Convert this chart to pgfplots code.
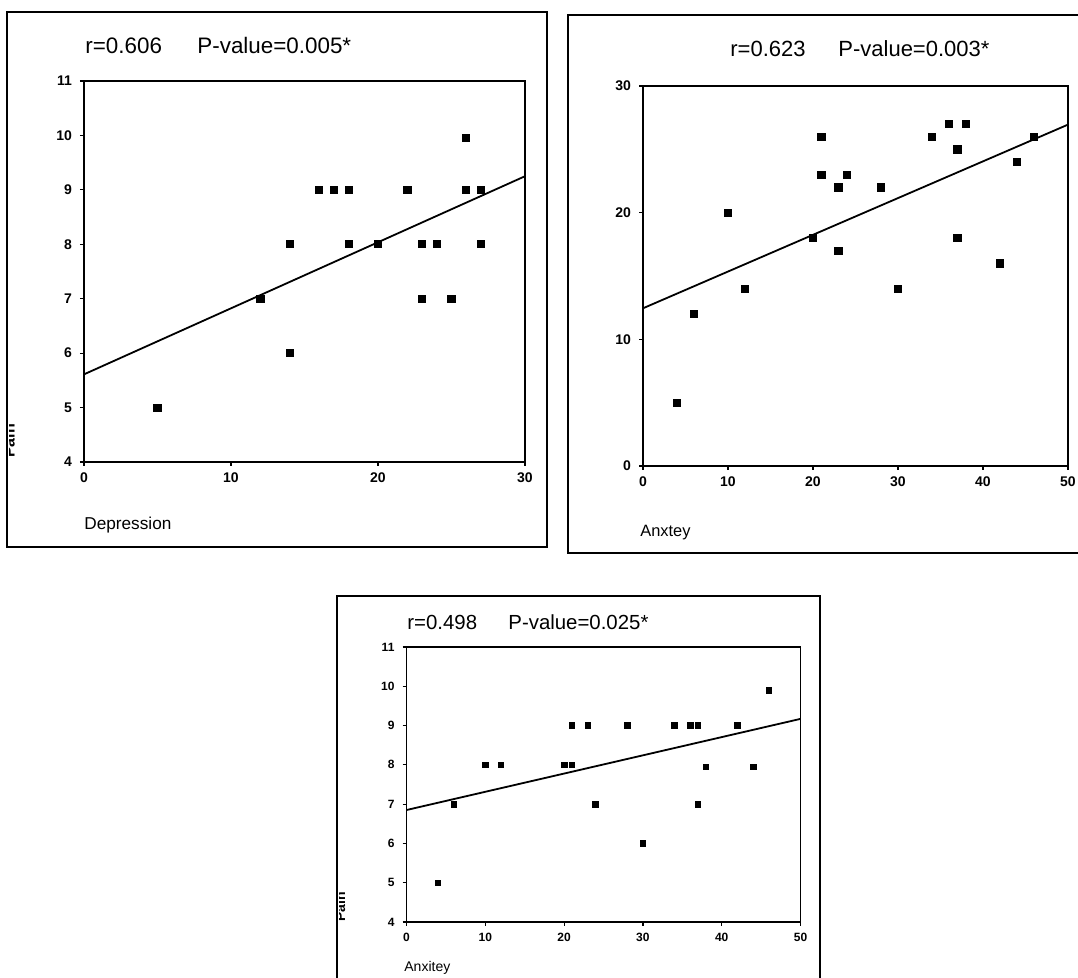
\documentclass[border=0pt]{standalone}
\usepackage{pgfplots}
\pgfplotsset{compat=1.18}
\usepackage{fontspec}
\setmainfont{Liberation Sans}
\pgfplotsset{
  myax/.style={scale only axis, anchor=south west,
    axis line style={line width=0.8pt},
    tick align=outside, tick pos=left, major tick length=2pt,
    tick style={line width=0.6pt, black},
    /pgf/number format/assume math mode=true,
    ticklabel style={font=\fontsize{7}{8}\selectfont\bfseries},
    yticklabel style={xshift=-0.5pt},
    clip=false},
  pts/.style={only marks, mark=square*, mark size=1.8pt, black},
  fit/.style={no marks, black, line width=0.9pt}
}
\begin{document}
\begin{tikzpicture}
\path[use as bounding box] (0,0) rectangle (539pt,489pt);
\fill[white] (0,0) rectangle (539pt,489pt);
% frames
\draw[line width=1pt] (3.5pt,215.5pt) rectangle (273.5pt,483pt);
\draw[line width=1pt] (284pt,212.5pt) rectangle (548pt,481.5pt);
\draw[line width=1pt] (168.5pt,-6pt) rectangle (410pt,191pt);

% Panel 1
\begin{axis}[myax, at={(42pt,258pt)}, width=220.5pt, height=190.5pt,
  xmin=0, xmax=30, ymin=4, ymax=11, xtick={0,10,20,30}, ytick={4,5,...,11}]
\addplot[pts] coordinates {(5,5) (12,7) (14,8) (14,6) (16,9) (17,9) (18,9) (18,8) (20,8) (22,9) (23,8) (24,8) (23,7) (25,7) (26,9.95) (26,9) (27,9) (27,8)};
\addplot[fit] coordinates {(0,5.61) (30,9.25)};
\end{axis}
\node[anchor=base west, inner sep=0, font=\fontsize{11.2}{13}\selectfont] at (42.5pt,462pt) {r=0.606};
\node[anchor=base west, inner sep=0, font=\fontsize{11.2}{13}\selectfont] at (98.5pt,462pt) {P-value=0.005*};
\node[anchor=base west, inner sep=0, font=\fontsize{8.6}{10}\selectfont] at (42pt,224pt) {Depression};
\begin{scope}
\clip (4.5pt,240pt) rectangle (20pt,300pt);
\node[rotate=90, inner sep=0, font=\fontsize{8}{10}\bfseries\selectfont] at (4.5pt,268.5pt) {Pain};
\end{scope}

% Panel 2
\begin{axis}[myax, at={(321.5pt,256pt)}, width=212.5pt, height=190pt,
  xmin=0, xmax=50, ymin=0, ymax=30, xtick={0,10,...,50}, ytick={0,10,20,30}]
\addplot[pts] coordinates {(4,5) (6,12) (10,20) (12,14) (20,18) (21,26) (21,23) (23,22) (23,17) (24,23) (28,22) (30,14) (34,26) (36,27) (37,25) (37,18) (38,27) (42,16) (44,24) (46,26)};
\addplot[fit] coordinates {(0,12.45) (50,26.95)};
\end{axis}
\node[anchor=base west, inner sep=0, font=\fontsize{11}{13}\selectfont] at (365pt,460.5pt) {r=0.623};
\node[anchor=base west, inner sep=0, font=\fontsize{11}{13}\selectfont] at (419pt,460.5pt) {P-value=0.003*};
\node[anchor=base west, inner sep=0, font=\fontsize{8.2}{10}\selectfont] at (320pt,220.5pt) {Anxtey};

% Panel 3
\begin{axis}[myax, at={(203.25pt,28pt)}, width=197pt, height=137.5pt,
  xmin=0, xmax=50, ymin=4, ymax=11, xtick={0,10,...,50}, ytick={4,5,...,11},
  ticklabel style={font=\fontsize{6}{7}\selectfont\bfseries}]
\addplot[pts, mark size=1.4pt] coordinates {(4,5) (6,7) (10,8) (12,8) (20,8) (21,8) (21,9) (23,9) (24,7) (28,9) (30,6) (34,9) (36,9) (37,9) (37,7) (38,7.95) (42,9) (44,7.95) (46,9.9)};
\addplot[fit] coordinates {(0,6.85) (50,9.17)};
\end{axis}
\node[anchor=base west, inner sep=0, font=\fontsize{10.2}{12}\selectfont] at (203.5pt,174pt) {r=0.498};
\node[anchor=base west, inner sep=0, font=\fontsize{10.2}{12}\selectfont] at (254pt,174pt) {P-value=0.025*};
\node[anchor=base west, inner sep=0, font=\fontsize{7}{9}\selectfont] at (202pt,3pt) {Anxitey};
\begin{scope}
\clip (169.5pt,20pt) rectangle (185pt,60pt);
\node[rotate=90, inner sep=0, font=\fontsize{7}{9}\bfseries\selectfont] at (170pt,35.5pt) {Pain};
\end{scope}
\end{tikzpicture}
\end{document}
